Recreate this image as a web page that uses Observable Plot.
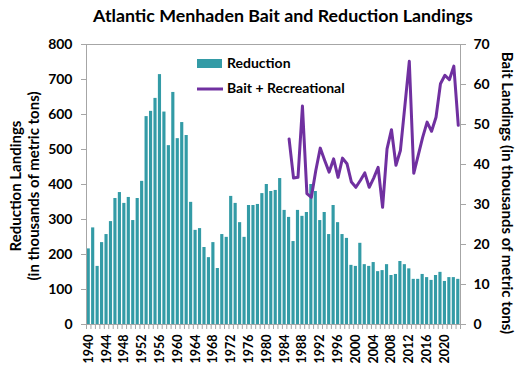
<!DOCTYPE html>
<html><head><meta charset="utf-8">
<script src="https://cdn.jsdelivr.net/npm/d3@7"></script>
<script src="https://cdn.jsdelivr.net/npm/@observablehq/plot@0.6"></script>
<style>
body{margin:0;background:#fff;font-family:Lato,sans-serif}
#wrap{position:relative;width:522px;height:372px;overflow:hidden}
#title{height:36px;padding-left:44px;box-sizing:border-box;text-align:center;font:bold 17.8px Lato;line-height:30px;color:#000;white-space:nowrap}
#legend{position:absolute;left:190px;top:50px;font:bold 14px Lato}
#chart svg{overflow:visible;display:block}
.ytitle{position:absolute;white-space:nowrap;font:bold 15px Lato;line-height:18px;text-align:center;color:#000}
#ltitle{left:24px;top:186px;transform:translate(-50%,-50%) rotate(-90deg)}
#rtitle{left:508px;top:193px;transform:translate(-50%,-50%) rotate(90deg)}
</style></head><body>
<div id="wrap">
<div id="title">Atlantic Menhaden Bait and Reduction Landings</div>
<div id="chart"></div>
<svg id="legend" width="170" height="50">
  <rect x="7" y="9" width="25" height="9" fill="#339BA6"></rect>
  <text x="37" y="14" dominant-baseline="middle">Reduction</text>
  <line x1="7" x2="33" y1="39" y2="39" stroke="#7030A0" stroke-width="3"></line>
  <text x="37" y="39" dominant-baseline="middle">Bait + Recreational</text>
</svg>
<div class="ytitle" id="ltitle">Reduction Landings<br>(in thousands of metric tons)</div>
<div class="ytitle" id="rtitle">Bait Landings (in thousands of metric tons)</div>
</div>
<script>
const firstYear = 1940;
const reduction = [
  216, 276, 166, 234, 257, 294, 360, 377, 346, 363,
  297, 360, 409, 594, 609, 646, 714, 607, 511, 663,
  531, 577, 540, 349, 269, 274, 220, 191, 234, 160,
  257, 249, 366, 346, 291, 249, 340, 340, 343, 374,
  400, 380, 383, 417, 326, 306, 237, 326, 309, 320,
  400, 380, 297, 320, 257, 340, 291, 257, 246, 169,
  166, 232, 171, 166, 177, 151, 154, 171, 140, 143,
  180, 171, 159, 129, 129, 143, 134, 126, 140, 149,
  123, 134, 134, 129
];
const baitFirstYear = 1985;
const bait = [
  46.4, 36.6, 36.8, 54.6, 32.7, 31.8, 38.5, 44.1, 41.0, 38.1,
  41.4, 36.8, 41.6, 40.2, 35.6, 34.3, 36.0, 37.9, 34.3, 36.6,
  39.3, 29.3, 43.9, 48.7, 39.8, 43.5, 54.6, 65.8, 37.8, 42.3,
  46.8, 50.6, 48.3, 51.8, 60.2, 62.3, 61.2, 64.6, 49.8
];
const leftTicks = [0, 100, 200, 300, 400, 500, 600, 700, 800];
const rightTicks = [0, 10, 20, 30, 40, 50, 60, 70];
const xLabelYears = [1940, 1944, 1948, 1952, 1956, 1960, 1964, 1968, 1972, 1976, 1980, 1984, 1988, 1992, 1996, 2000, 2004, 2008, 2012, 2016, 2020];
const leftMax = 800, rightMax = 70;
const RATIO = leftMax / rightMax;

const redData = reduction.map((value, i) => ({year: firstYear + i, value}));
const baitData = bait.map((value, i) => ({year: baitFirstYear + i, value}));
const lastYear = firstYear + reduction.length;
const boundaries = d3.range(firstYear, lastYear + 1);

const chart = Plot.plot({
  width: 522, height: 336,
  marginTop: 8, marginBottom: 48, marginLeft: 86, marginRight: 62,
  x: {type: "linear", domain: [firstYear, lastYear]},
  y: {domain: [0, leftMax]},
  style: {fontFamily: "Lato, sans-serif", fontWeight: "bold", fontSize: "14px", color: "#000", background: "transparent"},
  marks: [
    Plot.rectY(redData, {x1: "year", x2: d => d.year + 1, y: "value", fill: "#339BA6", insetLeft: 0.65, insetRight: 0.65}),
    Plot.frame({stroke: "#A6A6A6"}),
    Plot.line(baitData, {x: d => d.year + 0.5, y: d => d.value * RATIO, stroke: "#7030A0", strokeWidth: 3, strokeLinejoin: "round", strokeLinecap: "round"}),
    Plot.axisY(leftTicks, {anchor: "left", tickSize: 5, tickPadding: 9, stroke: "#A6A6A6", fill: "#000", label: null, fontSize: 14}),
    Plot.axisY(rightTicks.map(v => v * RATIO), {anchor: "right", tickSize: 5, tickPadding: 8, stroke: "#A6A6A6", fill: "#000", tickFormat: d => String(Math.round(d / RATIO)), label: null, fontSize: 14}),
    Plot.axisX(boundaries, {anchor: "bottom", tickSize: 5, tickFormat: () => "", stroke: "#A6A6A6", label: null}),
    Plot.axisX(xLabelYears.map(y => y + 0.5), {anchor: "bottom", tickSize: 0, tickPadding: 10, tickRotate: -90, tickFormat: d => String(d - 0.5), fill: "#000", label: null, fontSize: 12.5})
  ]
});
document.getElementById("chart").appendChild(chart);
</script>
</body></html>
